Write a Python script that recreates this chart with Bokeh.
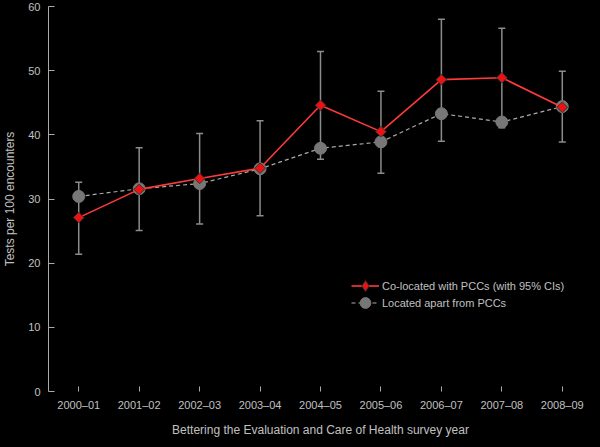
from bokeh.plotting import figure
from bokeh.models import (ColumnDataSource, Whisker, TeeHead, FixedTicker,
                          Legend, LegendItem, Range1d)
from bokeh.embed import file_html
from bokeh.resources import INLINE
import math

years = ["2000–01", "2001–02", "2002–03", "2003–04", "2004–05",
         "2005–06", "2006–07", "2007–08", "2008–09"]
colocated = [27.1, 31.5, 33.2, 34.8, 44.6, 40.5, 48.6, 48.9, 44.3]
co_lower = [21.4, 25.1, 26.1, 27.4, 36.2, 34.0, 39.0, 41.1, 38.9]
co_upper = [32.6, 38.0, 40.2, 42.2, 53.0, 46.8, 58.0, 56.6, 49.9]
apart = [30.4, 31.6, 32.4, 34.7, 37.9, 38.9, 43.3, 42.0, 44.4]
y_ticks = [0, 10, 20, 30, 40, 50, 60]

FONT = "Liberation Sans"
TXT = "#c0c0c0"
RED = "#ee1111"
GREY = "#777777"

src = ColumnDataSource(dict(year=years, co=colocated, lo=co_lower,
                            hi=co_upper, ap=apart))

p = figure(x_range=years, y_range=Range1d(0, 60), width=592, height=439,
           output_backend="svg", toolbar_location=None,
           min_border_left=10, min_border_right=0, min_border_top=6,
           min_border_bottom=0)
p.background_fill_color = "#000000"
p.border_fill_color = "#000000"
p.outline_line_color = None
p.grid.visible = False

# error bars
wh = Whisker(base="year", lower="lo", upper="hi", source=src,
             line_color="#8c8c8c", line_width=1.5,
             lower_head=TeeHead(size=7, line_color="#8c8c8c", line_width=1.5),
             upper_head=TeeHead(size=7, line_color="#8c8c8c", line_width=1.5))
p.add_layout(wh)

g_line = p.line("year", "ap", source=src, line_color="#aaaaaa",
                line_width=1.2, line_dash="4 3")
g_pts = p.scatter("year", "ap", source=src, marker="circle", size=12,
                  fill_color=GREY, line_color=GREY)
r_line = p.line("year", "co", source=src, line_color="#ff3a3a",
                line_width=1.6)
r_pts = p.scatter("year", "co", source=src, marker="square", size=7.5,
                  angle=math.pi / 4, fill_color=RED,
                  line_color="#333333", line_width=1)

# legend-only key marker (diamond shape), not drawn in the plot area
key_src = ColumnDataSource(dict(year=[years[0]], co=[float("nan")]))
r_key = p.scatter("year", "co", source=key_src, marker="diamond",
                  fill_color=RED, line_color="#333333", line_width=1)

# axes
p.yaxis.ticker = FixedTicker(ticks=y_ticks)
p.yaxis.axis_line_color = "#aaaaaa"
p.yaxis.major_tick_line_color = "#aaaaaa"
p.yaxis.major_tick_in = 6
p.yaxis.major_tick_out = 0
p.yaxis.minor_tick_line_color = None
p.yaxis.major_label_standoff = 8
p.yaxis.axis_label = "Tests per 100 encounters"
p.yaxis.axis_label_standoff = 8

p.xaxis.axis_line_color = None
p.xaxis.major_tick_line_color = "#aaaaaa"
p.xaxis.major_tick_in = 5
p.xaxis.major_tick_out = 0
p.xaxis.major_label_standoff = 7
p.xaxis.axis_label = "Bettering the Evaluation and Care of Health survey year"
p.xaxis.axis_label_standoff = 9

for ax in (p.xaxis, p.yaxis):
    ax.major_label_text_font = FONT
    ax.major_label_text_font_size = "11px"
    ax.major_label_text_color = TXT
    ax.axis_label_text_font = FONT
    ax.axis_label_text_font_size = "12px"
    ax.axis_label_text_font_style = "normal"
    ax.axis_label_text_color = TXT


def make_legend(label, renderers, loc):
    lg = Legend(items=[LegendItem(label=label, renderers=renderers)],
                location=loc)
    lg.background_fill_alpha = 0
    lg.border_line_color = None
    lg.label_text_font = FONT
    lg.label_text_font_size = "11px"
    lg.label_text_color = TXT
    lg.glyph_width = 28
    lg.glyph_height = 27
    lg.label_height = 14
    lg.label_standoff = 3
    lg.padding = 0
    lg.margin = 0
    return lg


p.add_layout(make_legend("Co-located with PCCs (with 95% CIs)",
                         [r_line, r_key], (303, 92)), "center")
p.add_layout(make_legend("Located apart from PCCs",
                         [g_line, g_pts], (303, 75)), "center")

html = file_html(p, INLINE)
html = html.replace(
    "</head>",
    "<style>html,body{background:#000000;overflow:hidden;}</style></head>", 1)
open("out.html", "w").write(html)
